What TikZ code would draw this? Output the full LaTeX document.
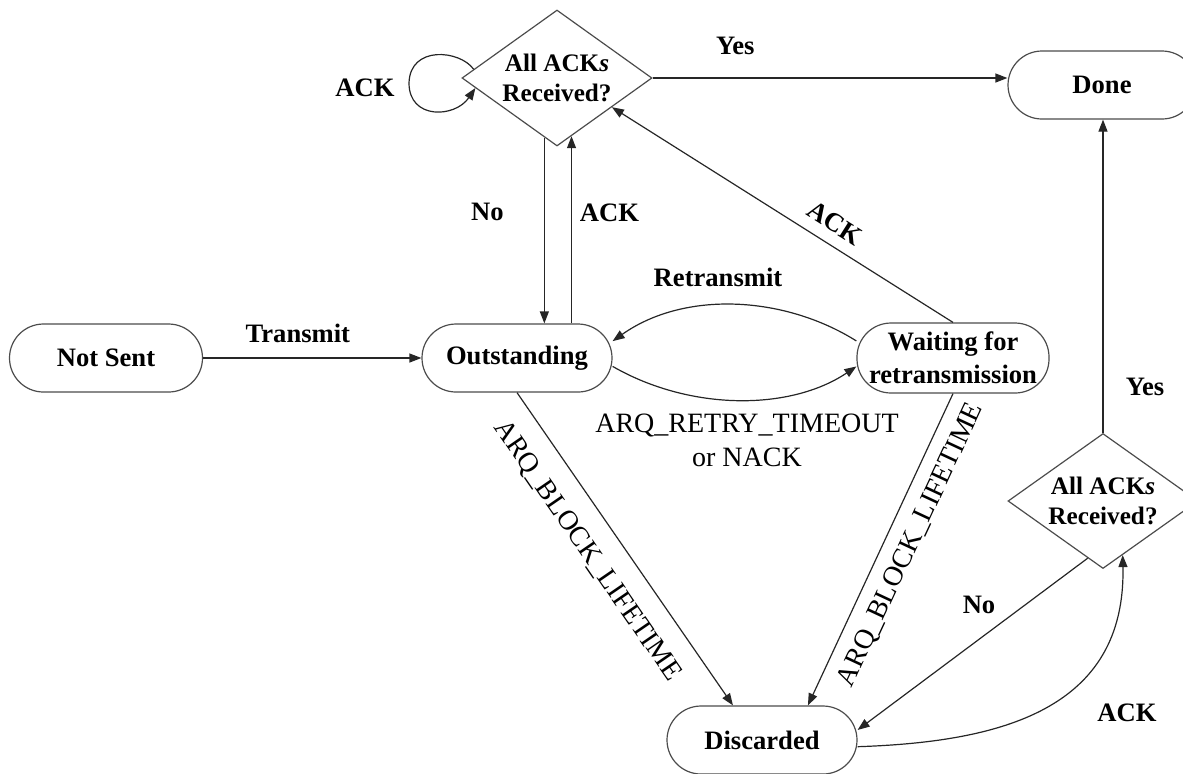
\documentclass[tikz,border=0pt]{standalone}
\usepackage{fontspec}
\setmainfont{Liberation Serif}
\usetikzlibrary{shapes.geometric,arrows.meta}
\newcommand\myStateFont{\fontsize{13.3}{17}\selectfont\bfseries}
\newcommand\myDiaFont{\fontsize{12.6}{15}\selectfont\bfseries}
\newcommand\myArqFont{\fontsize{14}{17}\selectfont}
\begin{document}
\begin{tikzpicture}[x=0.5pt,y=-0.5pt,
  state/.style={rectangle, rounded corners=17pt, draw=black!70, line width=0.6pt,
    minimum width=95pt, minimum height=34pt, inner sep=0pt, align=center, font=\myStateFont},
  dec/.style={diamond, draw=black!70, line width=0.6pt,
    minimum width=95pt, minimum height=68pt, inner sep=0pt},
  arr/.style={draw=black!85, line width=0.6pt, -{Triangle[length=6pt,width=4.5pt]}},
  lbl/.style={font=\myStateFont, inner sep=0pt},
  arq/.style={font=\myArqFont, inner sep=0pt, align=center},
]
\useasboundingbox (0,0) rectangle (1183,773);
\clip (0,0) rectangle (1183,773);

% states
\node[state, minimum width=96.5pt] (ns) at (106,358) {Not Sent};
\node[state] (out) at (517,358) {Outstanding};
\node[state, minimum width=96pt, minimum height=35pt] (wait) at (953,358) {Waiting for\\[-0.5pt]retransmission};
\node[state, minimum width=94pt] (done) at (1102,85) {Done};
\node[state] (disc) at (762,740) {Discarded};

% decisions
\node[dec, label={[font=\myDiaFont, align=center]center:All ACK\textit{s}\\Received?}] (top) at (557,78) {};
\node[dec, minimum height=67.5pt, label={[font=\myDiaFont, align=center]center:All ACK\textit{s}\\Received?}] (bot) at (1103,501) {};

% connectors
\draw[arr] (ns.east) -- node[lbl, pos=0.434, yshift=12.5pt] (lTr) {Transmit} (out.west);
\draw[arr] (top.east) -- node[lbl, pos=0.233, yshift=16pt] (lYesA) {Yes} (top.east -| done.west);
\draw[arr] (top.174) .. controls (460,50) and (410,45) .. (409,83)
                     .. controls (409,120) and (455,118) .. (top.187);
\node[lbl] (lLoop) at (365,88) {ACK};

\draw[arr] (top.258.7) -- node[lbl, pos=0.4, xshift=-28.5pt] (lNoA) {No} (top.258.7 |- out.north);
\draw[arr] (top.284.7 |- out.north) -- node[lbl, pos=0.59, xshift=19pt] (lAckA) {ACK} (top.284.7);

\draw[arr] (wait.north) -- (top.332.6);
\node[lbl, rotate=-32.4] (lAckB) at (835,223) {ACK};

\draw[arr] (wait.170) .. controls (785,296) and (685,290) .. (out.10);
\node[lbl] (lRe) at (718,277) {Retransmit};

\draw[arr] (out.-5) .. controls (690,411) and (790,411) .. (wait.185);
\node[arq] (lRetry) at (747,440) {ARQ\_RETRY\_TIMEOUT\\or NACK};

\draw[arr] (out.south) -- (disc.130.6);
\node[arq, rotate=-55.5] (lBlkA) at (587,551) {ARQ\_BLOCK\_LIFETIME};
\draw[arr] (wait.south) -- (disc.37);
\node[arq, rotate=65] (lBlkB) at (911,545) {ARQ\_BLOCK\_LIFETIME};

\draw[arr] (bot.north) -- node[lbl, pos=0.146, xshift=21pt] (lYesB) {Yes} (bot.north |- done.south);
\draw[arr] (bot.255) -- (disc.6);
\node[lbl] (lNoB) at (979,605) {No};
\draw[arr] (disc.-4) .. controls (1000,742) and (1126,710) .. (bot.290.7);
\node[lbl] (lAckC) at (1127,713) {ACK};
\end{tikzpicture}
\end{document}
